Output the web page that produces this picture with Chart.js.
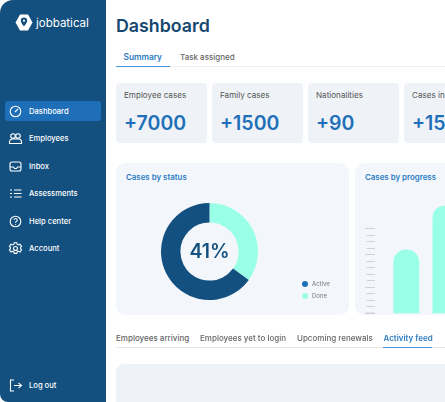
<!DOCTYPE html>
<html>
<head>
<meta charset="utf-8">
<script src="https://cdn.jsdelivr.net/npm/chart.js@4"></script>
<style>
  html, body { margin:0; width:445px; height:402px; overflow:hidden; background:#fff; font-family:Inter, "Noto Sans", sans-serif; }
  .abs, .t { position:absolute; white-space:nowrap; }
  .t { line-height:1; transform:translateY(-50%); }
  #side { position:absolute; left:0; top:0; width:106px; height:402px; background:#14507f; border-radius:13px 0 0 8px; }
  .nav { color:#fff; font-size:7.6px; font-weight:500; left:29px; }
  .box { position:absolute; background:#eff3f8; border-radius:4px; height:60px; top:83px; width:91px; }
  .lab { color:#555; font-size:8.1px; top:95px; }
  .num { color:#1f70b8; font-size:19.5px; font-weight:600; top:123.5px; }
  .panel { position:absolute; background:#f3f7fc; border-radius:9px; top:163px; height:152px; }
  .ptitle { color:#2c7cc2; font-size:7.9px; font-weight:600; top:177.5px; }
  .tab { color:#666; font-size:8px; font-weight:500; top:338px; }
  .dot { position:absolute; width:6px; height:6px; border-radius:50%; }
  svg.ic { position:absolute; left:8px; width:15px; height:15px; fill:none; stroke:#fff; stroke-width:1.1; }
  canvas { position:absolute; }
</style>
</head>
<body>
<div id="side"></div>
<svg class="abs" style="left:15px;top:14px" width="18" height="17" viewBox="0 0 18 17"><path d="M5 0.5h8l4.5 8-4.5 8H5L.5 8.500z" fill="#fff"/><path d="M9 3.500a3.200 3.200 0 0 1 3.200 3.200c0 2.200-3.200 5.600-3.200 5.600S5.800 8.900 5.800 6.700A3.200 3.200 0 0 1 9 3.500z" fill="#14507f"/><circle cx="9" cy="6.700" r="1.100" fill="#fff"/></svg>
<div class="t" style="left:36px;top:23.500px;color:#fff;font-size:11.500px;font-weight:400">jobbatical</div>

<div class="abs" style="left:5px;top:101px;width:96px;height:20px;background:#1f6fb8;border-radius:3px"></div>
<svg class="ic" style="top:103.500px" viewBox="0 0 15 15"><circle cx="7.500" cy="7.500" r="5.300"/><path d="M7 8l3-3"/></svg>
<svg class="ic" style="top:130.500px" viewBox="0 0 15 15"><circle cx="5" cy="5" r="2.300"/><circle cx="10" cy="5" r="2.300"/><path d="M1.500 12.500v-1.500a3 3 0 0 1 3-3h6a3 3 0 0 1 3 3v1.500z"/></svg>
<svg class="ic" style="top:158.500px" viewBox="0 0 15 15"><rect x="2" y="3" width="11" height="9" rx="2"/><path d="M2 8h3.500l1 1.500h2l1-1.500H13"/></svg>
<svg class="ic" style="top:185.500px" viewBox="0 0 15 15"><path d="M6 4h7.500M6 7.500h7.500M6 11h7.500M2 4h2M2 7.500h2M2 11h2"/></svg>
<svg class="ic" style="top:213.500px" viewBox="0 0 15 15"><circle cx="7.500" cy="7.500" r="5.300"/><path d="M6 6a1.600 1.600 0 1 1 2.300 1.500c-.6.300-.8.700-.8 1.300M7.500 10.200v.8"/></svg>
<svg class="ic" style="top:240.500px" viewBox="0 0 15 15"><circle cx="7.500" cy="7.500" r="2"/><path d="M6.200 1.800h2.600l.4 1.600 1.400.6 1.400-.8 1.600 2-1 1.300v1.200l1 1.300-1.600 2-1.400-.8-1.400.6-.4 1.600H6.200l-.4-1.600-1.400-.6-1.400.8-1.600-2 1-1.300V6.500l-1-1.300 1.600-2 1.400.8 1.400-.6z"/></svg>
<svg class="ic" style="top:377.500px" viewBox="0 0 15 15"><path d="M6 2H2.500v11H6M6 7.500h7.500M10.500 4.800l3 2.700-3 2.700"/></svg>

<div class="t nav" style="top:111.500px">Dashboard</div>
<div class="t nav" style="top:139px">Employees</div>
<div class="t nav" style="top:166.500px">Inbox</div>
<div class="t nav" style="top:194px">Assessments</div>
<div class="t nav" style="top:221.500px">Help center</div>
<div class="t nav" style="top:249px">Account</div>
<div class="t nav" style="top:385.500px">Log out</div>

<div class="t" style="left:116px;top:26px;color:#15476f;font-size:17.800px;font-weight:600">Dashboard</div>
<div class="abs" style="left:116px;top:66px;width:329px;height:1px;background:#eee"></div>
<div class="abs" style="left:116px;top:65.500px;width:54px;height:1.500px;background:#4a96d8"></div>
<div class="t" style="left:123.500px;top:57px;color:#2c7cc2;font-size:8.300px;font-weight:600">Summary</div>
<div class="t" style="left:180px;top:57px;color:#666;font-size:8px;font-weight:500">Task assigned</div>

<div class="box" style="left:116px"></div>
<div class="box" style="left:212px"></div>
<div class="box" style="left:308px"></div>
<div class="box" style="left:404px"></div>
<div class="t lab" style="left:124px">Employee cases</div>
<div class="t lab" style="left:220px">Family cases</div>
<div class="t lab" style="left:316px">Nationalities</div>
<div class="t lab" style="left:412px">Cases in</div>
<div class="t num" style="left:124px">+7000</div>
<div class="t num" style="left:220px">+1500</div>
<div class="t num" style="left:316px">+90</div>
<div class="t num" style="left:412px">+15</div>

<div class="panel" style="left:116px;width:233px"></div>
<div class="panel" style="left:355px;width:120px"></div>
<div class="t ptitle" style="left:126px">Cases by status</div>
<div class="t ptitle" style="left:365px">Cases by progress</div>

<canvas id="statusChart" width="111" height="111" style="left:154px;top:196px"></canvas>
<div class="t" style="left:209.500px;top:252px;transform:translate(-50%,-50%);color:#15507f;font-size:19.500px;font-weight:600">41%</div>
<div class="dot" style="left:302px;top:281px;background:#1f6fb8"></div>
<div class="dot" style="left:302px;top:292.500px;background:#99ffe6"></div>
<div class="t" style="left:312px;top:284px;color:#777;font-size:6px">Active</div>
<div class="t" style="left:312px;top:295.500px;color:#777;font-size:6px">Done</div>

<canvas id="progressChart" width="110" height="124" style="left:355px;top:190px"></canvas>

<div class="abs" style="left:116px;top:347px;width:329px;height:1px;background:#e8e8e8"></div>
<div class="abs" style="left:383px;top:346.500px;width:49px;height:1.500px;background:#4a96d8"></div>
<div class="t tab" style="left:116px">Employees arriving</div>
<div class="t tab" style="left:200px">Employees yet to login</div>
<div class="t tab" style="left:297px">Upcoming renewals</div>
<div class="t tab" style="left:383.500px;color:#2c7cc2;font-weight:600">Activity feed</div>
<div class="abs" style="left:116px;top:364px;width:340px;height:50px;background:#eff3f8;border-radius:8px"></div>

<script>
// values
const statusLabels = ["Done", "Active"];
const statusValues = [35, 65];
const statusColors = ["#99ffe6", "#14507f"];

const progressLabels = ["Bar 1", "Bar 2"];
const progressValues = [9.7, 16.5];
const tickValues = [0, 1, 2, 3, 4, 5, 6, 7, 8, 9, 10, 11, 12, 13];
const longTicks = [0, 4, 9, 13];

new Chart(document.getElementById("statusChart"), {
  type: "doughnut",
  data: {
    labels: statusLabels,
    datasets: [{ data: statusValues, backgroundColor: statusColors, borderWidth: 0 }]
  },
  options: {
    responsive: false,
    animation: false,
    cutout: "60%",
    layout: { padding: 7 },
    plugins: { legend: { display: false }, tooltip: { enabled: false } }
  }
});

// ticks of the left axis: some long, some short, last one thicker
const rulerTicks = {
  id: "rulerTicks",
  afterDraw(chart) {
    const ctx = chart.ctx, y = chart.scales.y;
    const right = y.right - 11.7;
    ctx.save();
    tickValues.forEach((v) => {
      const isLong = longTicks.includes(v);
      const py = Math.round(y.getPixelForValue(v)) + 0.5;
      ctx.strokeStyle = "#cfd2d6";
      ctx.lineWidth = v === 0 ? 2 : 1;
      ctx.beginPath();
      ctx.moveTo(right - (isLong ? 10 : 8.5), py);
      ctx.lineTo(right, py);
      ctx.stroke();
    });
    ctx.restore();
  }
};

new Chart(document.getElementById("progressChart"), {
  type: "bar",
  data: {
    labels: progressLabels,
    datasets: [{
      data: progressValues,
      backgroundColor: "#99ffe6",
      barThickness: 25.3,
      borderSkipped: "bottom",
      borderRadius: { topLeft: 12.6, topRight: 12.6 }
    }]
  },
  options: {
    responsive: false,
    animation: false,
    layout: { padding: 0 },
    plugins: { legend: { display: false }, tooltip: { enabled: false } },
    scales: {
      x: { display: false },
      y: {
        min: -0.154, max: 18.92,
        afterFit(s) { s.width = 31.7; },
        border: { display: false },
        grid: { display: false },
        ticks: { display: false }
      }
    }
  },
  plugins: [rulerTicks]
});
</script>
</body>
</html>
